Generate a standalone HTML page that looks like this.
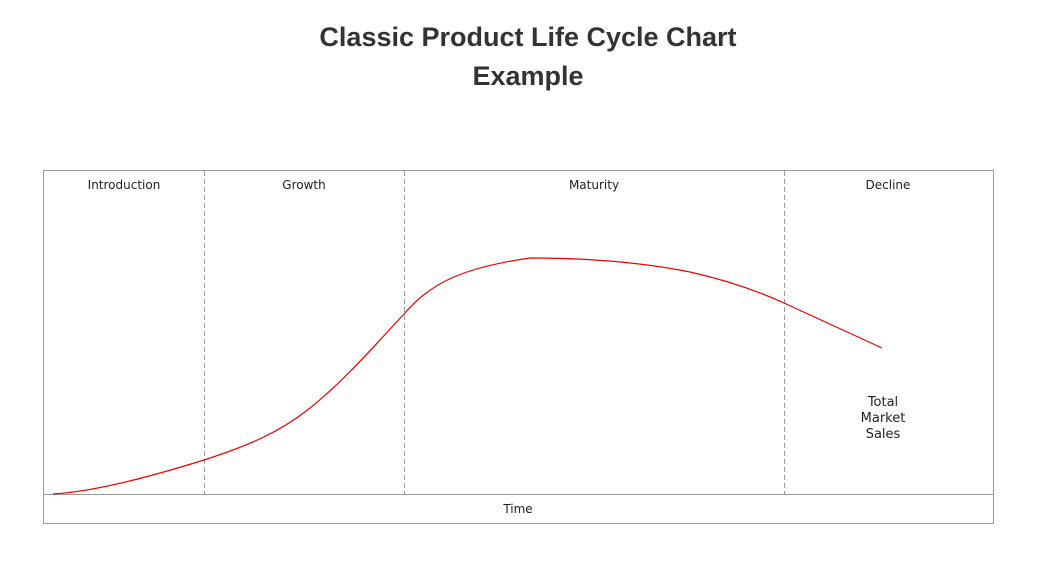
<!DOCTYPE html>
<html><head><style>
body{margin:0;background:#fff;width:1040px;height:565px;overflow:hidden}
</style></head><body>
<svg width="1040" height="565" xmlns="http://www.w3.org/2000/svg">
<text x="528" y="46" text-anchor="middle" font-family="Liberation Sans, sans-serif" font-weight="bold" font-size="27" fill="#333">Classic Product Life Cycle Chart</text>
<text x="528" y="85" text-anchor="middle" font-family="Liberation Sans, sans-serif" font-weight="bold" font-size="27" fill="#333">Example</text>
<rect x="43.5" y="170.5" width="950" height="353" fill="none" stroke="#999" stroke-width="1"/>
<line x1="43" y1="494.5" x2="993" y2="494.5" stroke="#999"/>
<g stroke="#999" stroke-dasharray="5,3">
<line x1="204.5" y1="171" x2="204.5" y2="494"/>
<line x1="404.5" y1="171" x2="404.5" y2="494"/>
<line x1="784.5" y1="171" x2="784.5" y2="494"/>
</g>
<g font-family="DejaVu Sans, sans-serif" font-size="12" fill="#222" text-anchor="middle">
<text x="124" y="189">Introduction</text>
<text x="304" y="189">Growth</text>
<text x="594" y="189">Maturity</text>
<text x="888" y="189">Decline</text>
<text x="518" y="513">Time</text>
<text x="883" y="406" font-size="13">Total</text>
<text x="883" y="422" font-size="13">Market</text>
<text x="883" y="438" font-size="13">Sales</text>
</g>
<path d="M53,494 C90,492 140,480 204,460 C250,445 280,432 310,408 C345,380 375,345 404,314 C430,284 460,268 530,258 C600,258 650,264 690,272 C730,281 760,292 784,303 L882,348" fill="none" stroke="#e00" stroke-width="1.2"/>
</svg>
</body></html>
